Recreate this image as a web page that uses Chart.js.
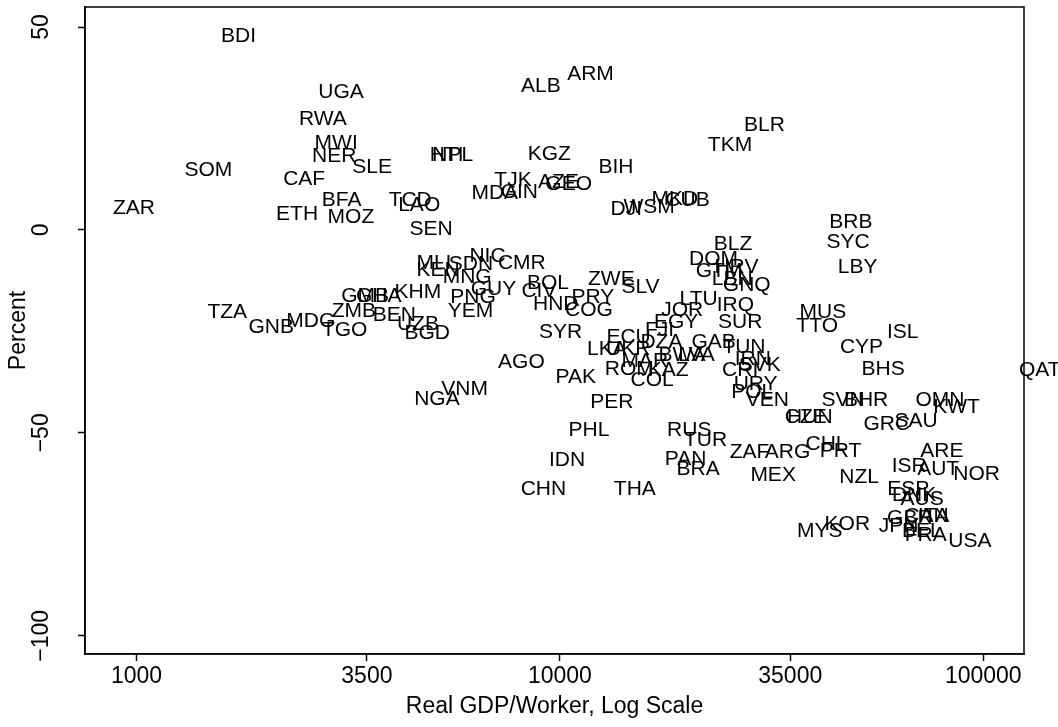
<!DOCTYPE html>
<html>
<head>
<meta charset="utf-8">
<script src="https://cdn.jsdelivr.net/npm/chart.js@4/dist/chart.umd.min.js"></script>
<style>
  html, body { margin: 0; padding: 0; background: #fff; }
  #wrap { width: 1058px; height: 727px; }
</style>
</head>
<body>
<div id="wrap"><canvas id="c" width="1058" height="727"></canvas></div>
<script>
// Country codes, real GDP per worker (log axis) and percent change
const codes = [
  'BDI','UGA','RWA','MWI','NER','SLE','SOM','CAF','ZAR','ETH',
  'BFA','MOZ','TCD','LAO','SEN','HTI','NPL','ALB','ARM','KGZ',
  'TJK','MDA','GIN','AZE','GEO','BIH','BLR','TKM','DJI','WSM',
  'MKD','CUB','BRB','SYC','LBY','MUS','TTO','ISL','CYP','BHS',
  'QAT','SVN','BHR','OMN','KWT','SAU','GRC','CZE','HUN','CHL',
  'PRT','ZAF','ARG','ARE','ISR','AUT','NOR','NZL','MEX','ESP',
  'DNK','AUS','MYS','KOR','JPN','GBR','CAN','ITA','BEL','FRA',
  'USA','NIC','CMR','MLI','KEN','SDN','MNG','GUY','CIV','BOL',
  'HND','PRY','ZWE','SLV','COG','SYR','AGO','PAK','VNM','NGA',
  'KHM','GMB','GHA','ZMB','BEN','TGO','MDG','GNB','TZA','UZB',
  'BGD','PNG','YEM','BLZ','DOM','GTM','HRV','LBN','GNQ','LTU',
  'IRQ','JOR','EGY','FJI','SUR','ECU','DZA','GAB','LKA','UKR',
  'TUN','BWA','LVA','MAR','ROM','KAZ','COL','CRI','IRN','SVK',
  'URY','POL','VEN','PER','PHL','RUS','TUR','PAN','BRA','IDN',
  'CHN','THA'
];

const gdpPerWorker = [
  1742, 3042, 2756, 2961, 2929, 3601, 1478, 2488, 986, 2394,
  3050, 3209, 4430, 4652, 4960, 5401, 5580, 9018, 11810, 9435,
  7747, 7015, 8021, 9924, 10490, 13560, 30420, 25220, 14350, 16240,
  18680, 20020, 48670, 47960, 50490, 41790, 40520, 64520, 51570, 57990,
  135980, 46670, 52860, 78990, 86490, 69370, 59170, 38090, 38930, 42630,
  46000, 28050, 34490, 79850, 66820, 78260, 96430, 50910, 31890, 66470,
  68630, 71690, 41110, 47750, 63110, 67080, 73450, 76320, 71600, 73100,
  92970, 6745, 8131, 5039, 5152, 6163, 6039, 6970, 8922, 9374,
  9775, 11970, 13230, 15500, 11710, 10040, 8110, 10900, 5958, 5122,
  4620, 3468, 3731, 3260, 4064, 3101, 2580, 2081, 1638, 4620,
  4859, 6234, 6150, 25650, 23070, 23770, 26120, 25530, 27630, 21260,
  25980, 19450, 18810, 17190, 26670, 14530, 17370, 23070, 12910, 14500,
  27210, 19430, 21030, 15860, 14580, 18010, 16510, 26650, 28550, 29660,
  28990, 28470, 30900, 13260, 11710, 20210, 22090, 19810, 21200, 10400,
  9141, 15030
];

const pctChange = [
  48.2, 34.4, 27.8, 21.8, 18.6, 15.9, 15.1, 13.0, 5.7, 4.4,
  7.7, 3.6, 7.8, 6.5, 0.7, 18.8, 18.8, 35.8, 38.9, 19.2,
  12.6, 9.5, 9.6, 12.2, 11.8, 15.9, 26.2, 21.3, 5.6, 6.0,
  8.1, 7.7, 2.3, -2.6, -8.8, -19.9, -23.4, -24.8, -28.5, -33.8,
  -34.2, -41.6, -41.6, -41.6, -43.3, -46.6, -47.4, -45.8, -45.8, -52.5,
  -54.0, -54.4, -54.4, -54.0, -57.7, -58.5, -59.7, -60.6, -60.1, -63.4,
  -64.9, -65.9, -73.7, -72.1, -72.7, -70.6, -70.0, -70.2, -73.9, -74.9,
  -76.4, -6.1, -7.9, -7.7, -9.4, -8.1, -11.2, -14.1, -14.7, -12.7,
  -18.0, -16.2, -11.6, -13.7, -19.4, -24.8, -32.2, -35.9, -38.8, -41.2,
  -14.9, -16.0, -16.0, -19.7, -20.5, -24.2, -22.1, -23.6, -19.9, -22.9,
  -25.0, -16.2, -19.7, -3.0, -6.7, -9.8, -8.8, -11.6, -13.3, -16.6,
  -18.2, -19.4, -22.3, -24.4, -22.3, -26.0, -27.3, -27.3, -28.9, -28.9,
  -28.5, -30.5, -30.5, -32.0, -33.8, -34.2, -36.7, -34.2, -31.5, -33.0,
  -37.5, -39.6, -41.6, -42.1, -49.0, -49.0, -51.5, -56.0, -58.5, -56.4,
  -63.4, -63.4
];

// Axis tick values
const xTicks = [1000, 3500, 10000, 35000, 100000];
const yTicks = [-100, -50, 0, 50];

const FONT = '"Liberation Sans", Arial, Helvetica, sans-serif';
const LABEL_SIZE = 21;
const AXIS_SIZE = 23;

Chart.defaults.font.family = FONT;
Chart.defaults.color = '#000';

const points = gdpPerWorker.map((v, i) => ({ x: v, y: pctChange[i] }));

// Draws each country code centred on its point
const codeLabels = {
  id: 'codeLabels',
  afterDatasetsDraw(chart) {
    const ctx = chart.ctx;
    const meta = chart.getDatasetMeta(0);
    ctx.save();
    ctx.font = LABEL_SIZE + 'px ' + FONT;
    ctx.fillStyle = '#000';
    ctx.textAlign = 'center';
    ctx.textBaseline = 'alphabetic';
    meta.data.forEach((el, i) => {
      ctx.fillText(codes[i], el.x, el.y + LABEL_SIZE * 0.716 / 2);
    });
    ctx.restore();
  }
};

// Box around the plot region
const plotFrame = {
  id: 'plotFrame',
  afterDraw(chart) {
    const { ctx, chartArea: a } = chart;
    ctx.save();
    ctx.strokeStyle = '#000';
    ctx.lineWidth = 1.5;
    ctx.strokeRect(a.left, a.top, a.right - a.left, a.bottom - a.top);
    ctx.restore();
  }
};

const axisTicks = {
  display: true,
  drawOnChartArea: false,
  drawTicks: true,
  tickLength: 7,
  tickColor: '#000',
  tickWidth: 1.5
};

new Chart(document.getElementById('c'), {
  type: 'scatter',
  data: {
    datasets: [{
      data: points,
      pointRadius: 0,
      pointHoverRadius: 0,
      showLine: false
    }]
  },
  options: {
    responsive: false,
    animation: false,
    devicePixelRatio: 1,
    layout: { padding: { left: 0, right: 34, top: 7, bottom: 0 } },
    plugins: {
      legend: { display: false },
      tooltip: { enabled: false }
    },
    scales: {
      x: {
        type: 'logarithmic',
        position: 'bottom',
        min: 755.5,
        max: 124800,
        afterBuildTicks: s => { s.ticks = xTicks.map(v => ({ value: v })); },
        afterFit: s => { s.height = 73; s.paddingLeft = 0; s.paddingRight = 0; },
        ticks: {
          autoSkip: false,
          maxRotation: 0,
          minRotation: 0,
          padding: 2,
          font: { size: AXIS_SIZE },
          color: '#000',
          callback: v => String(v)
        },
        grid: axisTicks,
        border: { display: true, color: '#000', width: 1.5 },
        title: {
          display: true,
          text: 'Real GDP/Worker, Log Scale',
          font: { size: AXIS_SIZE },
          color: '#000',
          padding: { top: 0, bottom: 7 }
        }
      },
      y: {
        type: 'linear',
        position: 'left',
        min: -104.5,
        max: 54.93,
        afterBuildTicks: s => { s.ticks = yTicks.map(v => ({ value: v })); },
        afterFit: s => { s.width = 85; s.paddingTop = 0; s.paddingBottom = 0; },
        ticks: {
          autoSkip: false,
          minRotation: 90,
          maxRotation: 90,
          crossAlign: 'center',
          padding: 10,
          font: { size: AXIS_SIZE },
          color: '#000',
          callback: v => (v < 0 ? '\u2212' + Math.abs(v) : String(v))
        },
        grid: axisTicks,
        border: { display: true, color: '#000', width: 1.5 },
        title: {
          display: true,
          text: 'Percent',
          font: { size: AXIS_SIZE },
          color: '#000',
          padding: { top: 5, bottom: 0 }
        }
      }
    }
  },
  plugins: [codeLabels, plotFrame]
});
</script>
</body>
</html>
